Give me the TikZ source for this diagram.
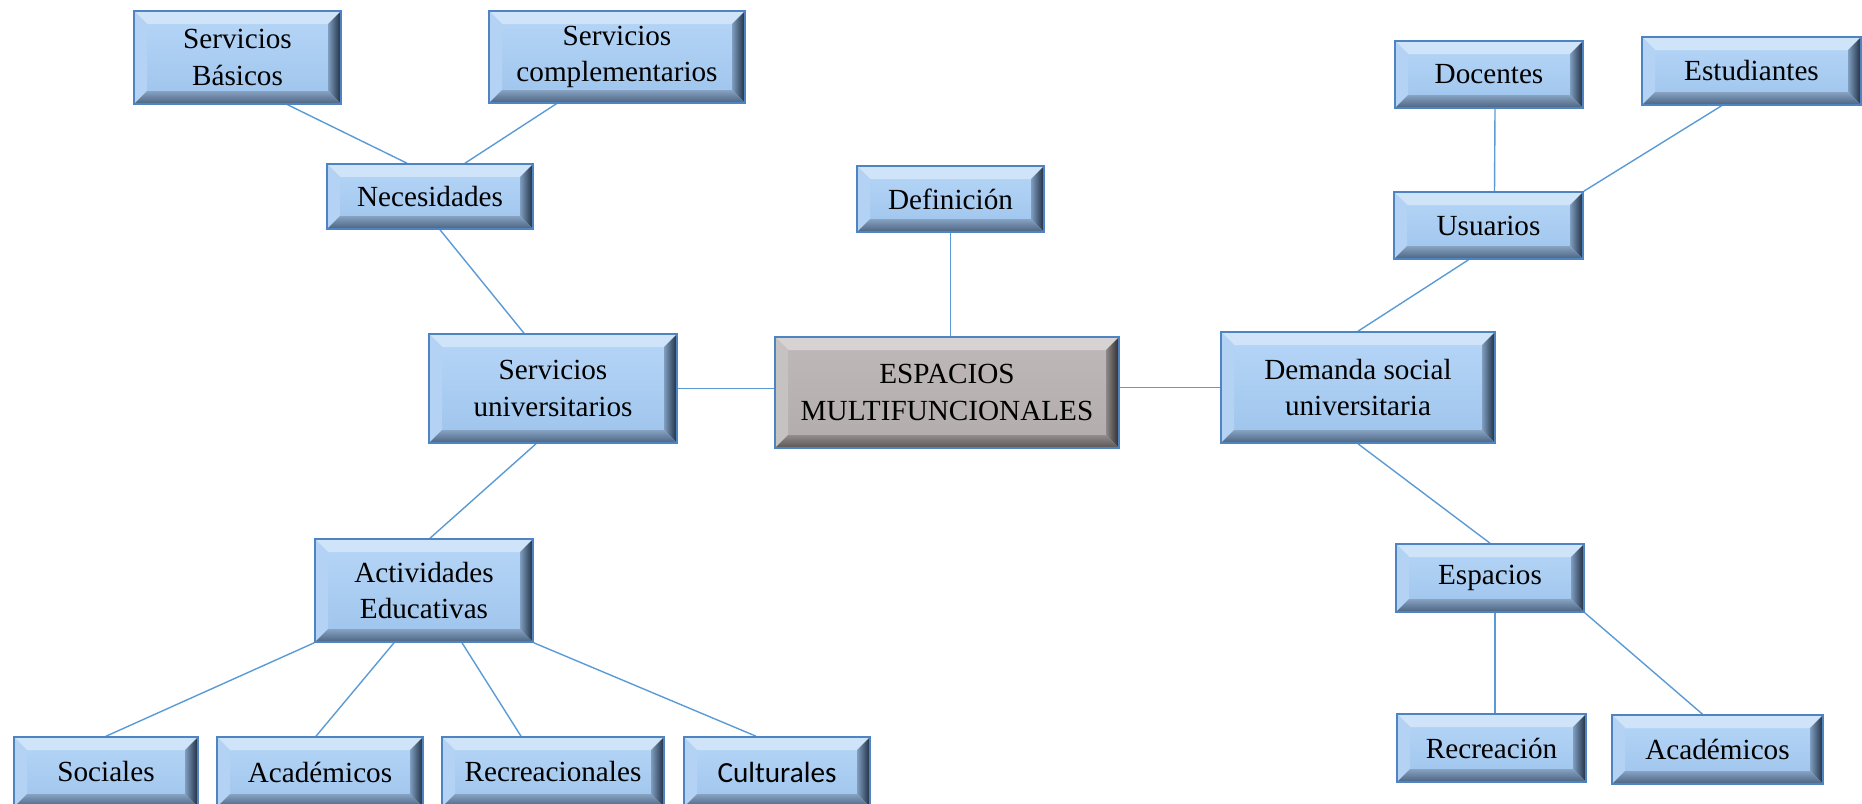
\documentclass[tikz,border=0pt]{standalone}
\usepackage{fontspec}
\setmainfont{Liberation Serif}
\newfontfamily\calib{Carlito}
\usetikzlibrary{calc,backgrounds}
\definecolor{faceT}{HTML}{B6D6F7}
\definecolor{faceB}{HTML}{9EC4EC}
\definecolor{bTop}{HTML}{CFE3F9}
\definecolor{bLeft}{HTML}{B4D2F3}
\definecolor{bRin}{HTML}{7F9DC0}
\definecolor{bRout}{HTML}{1E2C3E}
\definecolor{bBin}{HTML}{87A2C2}
\definecolor{bBout}{HTML}{4A6280}
\definecolor{gT}{HTML}{BEB9B8}
\definecolor{gB}{HTML}{B2ADAC}
\definecolor{gTop}{HTML}{D6D3D2}
\definecolor{gLeft}{HTML}{C6C2C1}
\definecolor{gRin}{HTML}{8E8988}
\definecolor{gRout}{HTML}{2E2A2A}
\definecolor{gBin}{HTML}{928D8C}
\definecolor{gBout}{HTML}{5A5555}
\definecolor{bord}{HTML}{4F84C2}
\definecolor{lnk}{HTML}{5B9BD5}
\newcommand\bevelfx[6]{%
 \fill[#1] (path picture bounding box.north west) -- (path picture bounding box.north east)
   -- ([shift={(-6.5pt,-6.5pt)}]path picture bounding box.north east)
   -- ([shift={(6.5pt,-6.5pt)}]path picture bounding box.north west) -- cycle;
 \fill[#2] (path picture bounding box.north west) -- ([shift={(6.5pt,-6.5pt)}]path picture bounding box.north west)
   -- ([shift={(6.5pt,6.5pt)}]path picture bounding box.south west)
   -- (path picture bounding box.south west) -- cycle;
 \shade[left color=#3, right color=#4] (path picture bounding box.north east) -- ([shift={(-6.5pt,-6.5pt)}]path picture bounding box.north east)
   -- ([shift={(-6.5pt,6.5pt)}]path picture bounding box.south east)
   -- (path picture bounding box.south east) -- cycle;
 \shade[top color=#5, bottom color=#6] (path picture bounding box.south west) -- ([shift={(6.5pt,6.5pt)}]path picture bounding box.south west)
   -- ([shift={(-6.5pt,6.5pt)}]path picture bounding box.south east)
   -- (path picture bounding box.south east) -- cycle;
}
\tikzset{
 bx/.style={draw=bord, line width=0.8pt, inner sep=0pt, align=center,
   font=\fontsize{14.6}{18.3}\selectfont},
 bluebox/.style={bx, top color=faceT, bottom color=faceB,
   path picture={\bevelfx{bTop}{bLeft}{bRin}{bRout}{bBin}{bBout}}},
 greybox/.style={bx, top color=gT, bottom color=gB,
   path picture={\bevelfx{gTop}{gLeft}{gRin}{gRout}{gBin}{gBout}}},
 wh/.style 2 args={minimum width=#1*0.5pt, minimum height=#2*0.5pt},
 link/.style={draw=lnk, line width=0.7pt}
}
\begin{document}
\begin{tikzpicture}[x=0.5pt,y=-0.5pt]
\useasboundingbox (0,0) rectangle (1862,803);
% nodes
\node[bluebox, wh={207}{93}] (sb) at (237.5,57.5) {Servicios\\Básicos};
\node[bluebox, wh={256}{92}] (sc) at (617,57) {Servicios\\complementarios};
\node[bluebox, wh={206}{65}] (nec) at (430,196.5) {Necesidades};
\node[bluebox, wh={187}{66}] (def) at (950.5,199) {Definición};
\node[bluebox, wh={248}{109}] (su) at (553,388.5) {Servicios\\universitarios};
\node[greybox, wh={344}{111}] (em) at (947,392.5) {ESPACIOS\\MULTIFUNCIONALES};
\node[bluebox, wh={274}{111}] (ds) at (1358,387.5) {Demanda social\\universitaria};
\node[bluebox, wh={188}{67}] (doc) at (1489,74.5) {Docentes};
\node[bluebox, wh={219}{68}] (est) at (1751.5,71) {Estudiantes};
\node[bluebox, wh={189}{67}] (usu) at (1488.5,225.5) {Usuarios};
\node[bluebox, wh={188}{68}] (esp) at (1490,578) {Espacios};
\node[bluebox, wh={189}{68}] (rec) at (1491.5,748) {Recreación};
\node[bluebox, wh={211}{69}] (acr) at (1717.5,749.5) {Académicos};
\node[bluebox, wh={218}{103}] (act) at (424,590.5) {Actividades\\Educativas};
\node[bluebox, wh={184}{70}] (soc) at (106,772) {Sociales};
\node[bluebox, wh={206}{70}] (acl) at (320,772) {Académicos};
\node[bluebox, wh={222}{70}] (recl) at (553,772) {Recreacionales};
\node[bluebox, wh={186}{70}, font=\calib\fontsize{14.6}{18.3}\selectfont] (cul) at (777,772) {Culturales};
% connectors
\begin{scope}[on background layer]
\draw[link] ($(sb.south)+(40,-5)$) -- ($(nec.north)+(-23,0)$);
\draw[link] ($(sc.south)+(-53,-5)$) -- ($(nec.north)+(35,0)$);
\draw[link] ($(nec.south)+(10,0)$) -- ($(su.north)+(-29,0)$);
\draw[link] (def.south) -- (def.south |- em.north);
\draw[link] (su.east) -- (su.east -| em.west);
\draw[link] (ds.west -| em.east) -- (ds.west);
\draw[link] (ds.north) -- ($(usu.south)+(-20,0)$);
\draw[link] ($(doc.south)+(6,0)$) -- ($(usu.north)+(6,0)$);
\draw[link] (usu.north east) -- ($(est.south)+(-30,0)$);
\draw[link] (ds.south) -- (esp.north);
\draw[link] ($(esp.south)+(5,0)$) -- ($(rec.north)+(3.5,0)$);
\draw[link] (esp.south east) -- ($(acr.north)+(-15,0)$);
\draw[link] ($(su.south)+(-17,0)$) -- ($(act.north)+(6,0)$);
\draw[link] (act.south west) -- (soc.north);
\draw[link] ($(act.south)+(-30,0)$) -- ($(acl.north)+(-4,0)$);
\draw[link] ($(act.south)+(38,0)$) -- ($(recl.north)+(-32,0)$);
\draw[link] (act.south east) -- ($(cul.north)+(-21,0)$);
\end{scope}
\end{tikzpicture}
\end{document}
